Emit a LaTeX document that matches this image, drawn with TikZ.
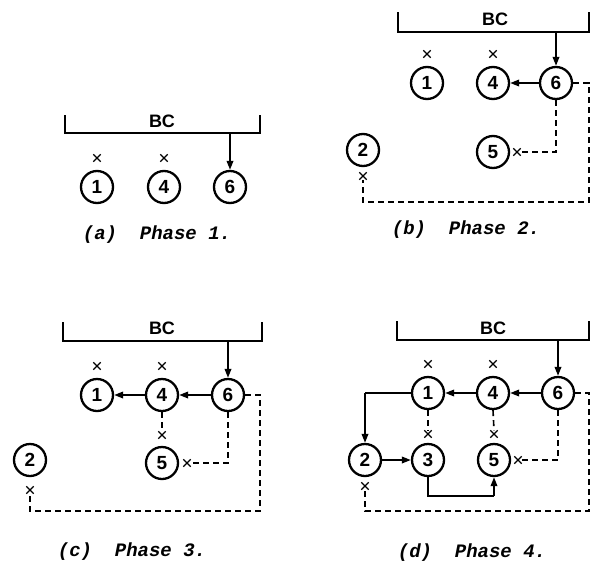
\documentclass[tikz,border=0pt]{standalone}
\usepackage{fontspec}
\setmainfont{Liberation Sans}
\newfontfamily\capfont{Liberation Mono}
\usetikzlibrary{arrows.meta,shapes.misc}
\tikzset{
  nd/.style={circle,draw,line width=2.3pt,minimum size=32pt,inner sep=0pt,font=\fontsize{19}{19}\selectfont\bfseries},
  xm/.style={cross out,draw,line width=1.3pt,minimum size=6pt,inner sep=0pt},
  busline/.style={line width=2.2pt},
  bclabel/.style={font=\fontsize{18}{18}\selectfont\bfseries},
  arr/.style={line width=1.9pt,-{Triangle[length=9pt,width=6.5pt]}},
  sol/.style={line width=1.9pt},
  dsh/.style={line width=1.6pt,dash pattern=on 6pt off 4pt},
  capt/.style={font=\fontsize{19}{19}\selectfont\capfont\bfseries\itshape}
}
\begin{document}
\begin{tikzpicture}[x=1pt,y=-1pt]
\useasboundingbox (0,0) rectangle (591,565);
% ---------- (a) ----------
\coordinate (aL) at (65,115); \coordinate (aLb) at (65,133);
\coordinate (aR) at (260,115); \coordinate (aRb) at (260,133);
\draw[busline] (aL) -- (aLb) -- (aRb) -- (aR);
\node[bclabel] (aBC) at (162,121) {BC};
\node[nd] (a1) at (97,187) {1};
\node[nd] (a4) at (164,187) {4};
\node[nd] (a6) at (230,187) {6};
\node[xm] (ax1) at (97,158) {};
\node[xm] (ax4) at (164,158) {};
\coordinate (aT) at (230,133);
\draw[arr] (aT) -- (a6.north);
\node[capt] (acap) at (157,235) {(a)~~Phase~1.};
% ---------- (b) ----------
\coordinate (bL) at (398,12); \coordinate (bLb) at (398,32);
\coordinate (bR) at (589,12); \coordinate (bRb) at (589,32);
\draw[busline] (bL) -- (bLb) -- (bRb) -- (bR);
\node[bclabel] (bBC) at (495,19) {BC};
\node[nd] (b1) at (427,83) {1};
\node[nd] (b4) at (493,83) {4};
\node[nd] (b6) at (556,83) {6};
\node[nd] (b2) at (363,150) {2};
\node[nd] (b5) at (493,152) {5};
\node[xm] (bx1) at (427,54) {};
\node[xm] (bx4) at (493,54) {};
\node[xm] (bx5) at (517,152) {};
\node[xm] (bx2) at (363,176) {};
\coordinate (bT) at (556,32);
\draw[arr] (bT) -- (b6.north);
\draw[arr] (b6.west) -- (b4.east);
\coordinate (bc1) at (556,152);
\draw[dsh] (b6.south) -- (bc1) -- (bx5.east);
\coordinate (bc2) at (589,83); \coordinate (bc3) at (589,202); \coordinate (bc4) at (363,202);
\draw[dsh] (b6.east) -- (bc2) -- (bc3) -- (bc4) -- (bx2.south);
\node[capt] (bcap) at (466,230) {(b)~~Phase~2.};
% ---------- (c) ----------
\coordinate (cL) at (63,322); \coordinate (cLb) at (63,341);
\coordinate (cR) at (262,322); \coordinate (cRb) at (262,341);
\draw[busline] (cL) -- (cLb) -- (cRb) -- (cR);
\node[bclabel] (cBC) at (162,328) {BC};
\node[nd] (c1) at (97,395) {1};
\node[nd] (c4) at (162,395) {4};
\node[nd] (c6) at (228,395) {6};
\node[nd] (c5) at (162,463) {5};
\node[nd] (c2) at (30,460) {2};
\node[xm] (cx1) at (97,366) {};
\node[xm] (cx4) at (162,366) {};
\node[xm] (cx5a) at (162,435) {};
\node[xm] (cx5b) at (187,463) {};
\node[xm] (cx2) at (30,490) {};
\coordinate (cT) at (228,341);
\draw[arr] (cT) -- (c6.north);
\draw[arr] (c6.west) -- (c4.east);
\draw[arr] (c4.west) -- (c1.east);
\draw[dsh] (c4.south) -- (cx5a.north);
\coordinate (cc1) at (228,463);
\draw[dsh] (c6.south) -- (cc1) -- (cx5b.east);
\coordinate (cc2) at (260,395); \coordinate (cc3) at (260,511); \coordinate (cc4) at (30,511);
\draw[dsh] (c6.east) -- (cc2) -- (cc3) -- (cc4) -- (cx2.south);
\node[capt] (ccap) at (132,552) {(c)~~Phase~3.};
% ---------- (d) ----------
\coordinate (dL) at (397,321); \coordinate (dLb) at (397,340);
\coordinate (dR) at (589,321); \coordinate (dRb) at (589,340);
\draw[busline] (dL) -- (dLb) -- (dRb) -- (dR);
\node[bclabel] (dBC) at (493,328) {BC};
\node[nd] (d1) at (428,393) {1};
\node[nd] (d4) at (493,393) {4};
\node[nd] (d6) at (558,393) {6};
\node[nd] (d2) at (365,460) {2};
\node[nd] (d3) at (428,460) {3};
\node[nd] (d5) at (494,460) {5};
\node[xm] (dx1) at (428,364) {};
\node[xm] (dx4) at (493,364) {};
\node[xm] (dx3) at (428,434) {};
\node[xm] (dx5a) at (494,434) {};
\node[xm] (dx5b) at (518,460) {};
\node[xm] (dx2) at (365,486) {};
\coordinate (dT) at (558,340);
\draw[arr] (dT) -- (d6.north);
\draw[arr] (d6.west) -- (d4.east);
\draw[arr] (d4.west) -- (d1.east);
\coordinate (dk1) at (365,393);
\draw[sol] (d1.west) -- (dk1);
\draw[arr] (dk1) -- (d2.north);
\draw[arr] (d2.east) -- (d3.west);
\coordinate (dk2) at (428,496); \coordinate (dk3) at (494,496);
\draw[sol] (d3.south) -- (dk2) -- (dk3);
\draw[arr] (dk3) -- (d5.south);
\draw[dsh] (d1.south) -- (dx3.north);
\draw[dsh] (d4.south) -- (dx5a.north);
\coordinate (dc1) at (558,460);
\draw[dsh] (d6.south) -- (dc1) -- (dx5b.east);
\coordinate (dc2) at (589,393); \coordinate (dc3) at (589,511); \coordinate (dc4) at (365,511);
\draw[dsh] (d6.east) -- (dc2) -- (dc3) -- (dc4) -- (dx2.south);
\node[capt] (dcap) at (472,553) {(d)~~Phase~4.};
\end{tikzpicture}
\end{document}
